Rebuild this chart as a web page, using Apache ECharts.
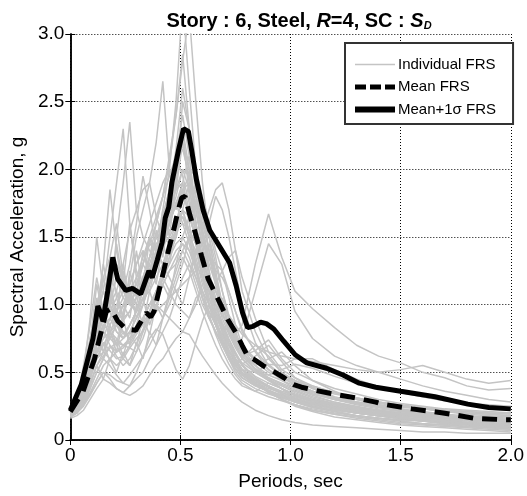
<!DOCTYPE html>
<html>
<head>
<meta charset="utf-8">
<script src="https://cdn.jsdelivr.net/npm/echarts@6/dist/echarts.min.js"></script>
<style>
html,body{margin:0;padding:0;background:#fff;}
#chart{width:527px;height:496px;}
</style>
</head>
<body>
<div id="chart"></div>
<script>
// ---- Data ----
var periods = [0,0.03,0.06,0.09,0.12,0.15,0.18,0.21,0.24,0.27,0.30,0.33,0.36,0.39,0.42,0.45,0.48,0.51,0.54,0.57,0.60,0.63,0.66,0.69,0.72,0.75,0.78,0.84,0.90,0.96,1.02,1.1,1.2,1.3,1.4,1.5,1.6,1.7,1.8,1.9,2.0];

var individualFRS = [
 [.22,.26,.35,.55,.8,.9,.75,.85,1.0,.9, 1.2,1.3,1.45,1.4,1.7,2.0,2.5,3.25,2.6,2.0, 1.7,1.4,1.2,1.0,.85,.75,.65,.52,.45,.4, .35,.3,.26,.23,.2,.17,.15,.13,.12,.11,.1],
 [.2,.24,.32,.5,.7,.95,.8,.85,.9,1.1, 1.0,1.2,1.35,1.6,1.8,2.1,2.4,2.85,2.3,1.8, 1.5,1.25,1.05,.9,.78,.68,.6,.5,.44,.38, .33,.28,.23,.2,.18,.16,.14,.12,.11,.1,.09],
 [.2,.23,.3,.45,.65,.8,1.0,1.1,.9,1.2, 1.5,1.7,1.9,2.2,2.65,2.0,1.7,1.9,2.1,1.6, 1.3,1.1,.9,.75,.65,.58,.52,.45,.4,.35, .31,.27,.23,.2,.18,.16,.15,.13,.12,.11,.1],
 [.25,.3,.42,.65,.9,1.2,1.0,1.5,1.9,2.35, 1.7,1.5,1.4,1.3,1.5,1.6,1.75,1.9,1.6,1.3, 1.05,.9,.8,.7,.6,.52,.46,.4,.36,.33, .3,.27,.24,.21,.19,.17,.15,.14,.13,.12,.11],
 [.2,.26,.38,.6,.9,1.1,1.5,1.9,2.3,1.6, 1.2,1.1,1.25,1.4,1.5,1.7,1.85,2.2,1.9,1.5, 1.25,1.0,.85,.72,.6,.5,.44,.38,.34,.31, .28,.24,.21,.18,.16,.15,.14,.13,.12,.11,.1],
 [.18,.22,.33,.55,.85,1.3,1.85,1.4,1.1,1.0, .95,1.1,1.3,1.45,1.5,1.65,1.8,2.0,1.85,1.6, 1.35,1.15,.95,.8,.7,.6,.52,.44,.4,.36, .33,.29,.26,.23,.21,.19,.17,.16,.15,.14,.13],
 [.22,.3,.5,.9,1.5,1.1,.95,.85,.75,.8, .9,1.0,1.15,1.3,1.45,1.5,1.6,1.7,1.9,1.75, 1.55,1.35,1.15,1.0,.85,.72,.62,.52,.46,.42, .38,.34,.3,.27,.24,.22,.2,.18,.17,.16,.15],
 [.2,.22,.28,.38,.5,.6,.7,.65,.68,.75, .8,.9,1.0,1.1,1.2,1.1,1.0,.95,.9,1.05, 1.1,1.0,.9,.85,.8,.78,.85,1.3,1.67,1.35, 1.1,.97,.83,.7,.62,.57,.5,.46,.4,.37,.38],
 [.2,.22,.27,.35,.45,.55,.6,.65,.7,.68, .75,.8,.9,1.0,.95,.9,.85,.8,.9,1.0, 1.15,1.2,1.1,.95,.8,.7,.75,1.1,1.45,1.3, .95,.75,.62,.55,.5,.45,.4,.36,.33,.3,.28],
 [.22,.28,.4,.62,.8,.95,1.05,.9,.8,.75, .85,1.0,1.2,1.4,1.6,1.85,2.05,2.15,1.95,1.6, 1.3,1.05,.88,.74,.62,.53,.46,.4,.36,.33, .3,.26,.23,.2,.18,.16,.14,.12,.11,.1,.09],
 [.2,.25,.36,.55,.72,.8,.7,.62,.55,.6, .7,.82,.95,1.1,1.25,1.4,1.55,1.6,1.55,1.45, 1.3,1.2,1.1,1.0,.9,.8,.68,.55,.45,.38, .33,.29,.25,.22,.2,.18,.16,.15,.13,.12,.11],
 [.21,.28,.45,.7,.95,1.1,.95,1.05,1.15,1.0, 1.05,1.2,1.1,1.3,1.45,1.6,1.75,1.85,1.95,2.0, 1.8,1.6,1.4,1.25,1.1,.95,.8,.66,.55,.48, .44,.39,.35,.31,.28,.25,.23,.21,.19,.18,.17],
 [.17,.2,.27,.38,.5,.6,.55,.48,.42,.4, .45,.5,.6,.7,.8,.9,1.05,1.2,1.3,1.2, 1.05,.95,.85,.75,.66,.58,.5,.42,.35,.3, .25,.21,.17,.15,.13,.11,.1,.09,.08,.07,.06],
 [.22,.27,.4,.6,.78,.9,1.0,1.2,1.05,1.0, 1.1,1.3,1.5,1.4,1.3,1.2,1.1,1.0,1.2,1.4, 1.55,1.7,1.85,1.9,1.7,1.4,1.1,.8,.6,.5, .44,.38,.34,.31,.28,.25,.23,.21,.2,.19,.18],
 [.19,.23,.33,.5,.65,.75,.8,.7,.6,.55, .65,.8,.95,1.1,1.25,1.4,1.55,1.7,1.65,1.5, 1.45,1.6,1.8,1.7,1.5,1.25,1.0,.72,.55,.47, .41,.36,.31,.28,.25,.22,.2,.18,.16,.15,.14],
 [.2,.25,.38,.6,.85,1.0,.95,.8,.75,.85, .95,1.05,1.2,1.35,1.55,1.8,2.1,2.4,2.1,1.7, 1.4,1.15,.95,.8,.66,.56,.48,.41,.36,.32, .28,.24,.21,.18,.16,.14,.12,.11,.1,.09,.08],
 [.17,.2,.26,.34,.42,.5,.45,.38,.35,.4, .5,.62,.75,.82,.78,.65,.52,.45,.55,.72, .88,1.0,.95,.85,.74,.64,.55,.44,.36,.3, .26,.22,.19,.16,.14,.12,.11,.1,.09,.08,.07],
 [.23,.28,.42,.65,.85,1.0,1.2,1.1,1.3,1.55, 1.7,1.85,1.9,1.65,1.5,1.6,1.9,2.5,2.3,1.95, 1.65,1.4,1.15,.95,.8,.7,.62,.53,.46,.41, .37,.32,.28,.25,.22,.2,.18,.17,.16,.15,.14],
 [.2,.24,.33,.48,.6,.65,.6,.55,.6,.68, .65,.75,.9,1.05,1.2,1.35,1.45,1.5,1.4,1.25, 1.1,.95,.85,.78,.7,.63,.57,.5,.48,.52, .56,.53,.47,.42,.38,.35,.32,.29,.27,.25,.23],
 [.21,.26,.38,.56,.75,.9,1.05,.95,.9,.95, 1.05,1.2,1.35,1.5,1.65,1.85,2.0,2.2,2.0,1.7, 1.45,1.2,1.0,.85,.72,.63,.55,.47,.42,.38, .34,.3,.27,.24,.22,.2,.19,.18,.17,.16,.15],
 [.24,.3,.45,.7,.95,1.1,1.0,.9,1.0,1.15, 1.3,1.4,1.25,1.4,1.55,1.7,1.85,2.0,1.95,1.8, 1.6,1.4,1.2,1.0,.85,.74,.66,.6,.56,.55, .6,.6,.52,.45,.39,.35,.32,.29,.27,.26,.25],
 [.19,.22,.3,.42,.55,.65,.75,.85,.8,.75, .8,.9,1.0,1.1,1.2,1.3,1.4,1.45,1.4,1.3, 1.2,1.1,1.0,.92,.84,.76,.7,.6,.52,.46, .41,.36,.31,.28,.26,.24,.23,.22,.21,.2,.2],
 [.2,.24,.35,.52,.66,.75,.9,.8,.75,.8, .9,1.0,1.15,1.3,1.45,1.6,1.75,1.85,1.9,1.75, 1.5,1.35,1.25,1.2,1.1,.95,.82,.65,.52,.44, .38,.33,.28,.24,.21,.19,.17,.15,.14,.13,.12],
 [.22,.27,.4,.6,.75,.85,.9,1.0,1.1,1.3, 1.6,1.95,1.7,1.4,1.3,1.4,1.5,1.7,1.55,1.35, 1.15,1.0,.88,.77,.67,.58,.5,.43,.38,.35, .32,.28,.25,.22,.2,.19,.18,.16,.15,.14,.13],
 [.18,.2,.25,.33,.42,.5,.48,.44,.42,.48, .55,.62,.7,.8,.9,1.0,1.15,1.3,1.5,1.4, 1.2,1.05,.92,.8,.7,.6,.52,.42,.35,.3, .26,.22,.19,.17,.15,.13,.12,.11,.1,.09,.09],
 [.2,.25,.38,.6,.82,1.0,1.1,.95,.88,.95, 1.05,1.2,1.35,1.5,1.65,1.85,2.15,2.6,2.3,1.9, 1.55,1.25,1.0,.83,.7,.6,.52,.44,.39,.34, .3,.27,.24,.22,.2,.18,.17,.16,.15,.14,.14],
 [.21,.25,.36,.55,.72,.85,.8,.9,1.0,1.05, 1.15,1.3,1.45,1.6,1.8,2.05,2.4,2.8,3.15,2.5, 1.9,1.5,1.2,1.0,.85,.72,.6,.5,.44,.4, .36,.31,.27,.24,.22,.2,.18,.17,.16,.15,.14],
 [.2,.24,.35,.55,.72,.8,.75,.7,.75,.85, .95,1.1,1.2,1.35,1.45,1.55,1.6,1.65,1.55,1.45, 1.3,1.2,1.1,1.0,.92,.85,.78,.7,.65,.62, .6,.58,.55,.52,.5,.52,.55,.5,.45,.42,.44],
 [.16,.18,.22,.3,.38,.45,.42,.38,.35,.33, .36,.4,.48,.55,.6,.68,.75,.8,.78,.7, .62,.55,.48,.42,.37,.32,.28,.22,.18,.15, .13,.11,.1,.09,.08,.07,.06,.06,.05,.05,.05],
 [.21,.27,.4,.62,.85,1.0,1.15,1.3,1.2,1.1, 1.2,1.35,1.5,1.65,1.8,1.95,2.1,1.95,1.75,1.55, 1.35,1.15,1.0,.87,.75,.65,.56,.46,.4,.35, .31,.27,.24,.21,.19,.17,.15,.14,.13,.12,.11],
 [.2,.23,.32,.46,.6,.7,.8,.75,.7,.72, .8,.9,1.0,1.05,1.15,1.25,1.3,1.4,1.5,1.6, 1.65,1.5,1.3,1.1,.92,.78,.66,.52,.44,.38, .33,.29,.26,.23,.21,.19,.17,.16,.15,.14,.13],
 [.23,.3,.48,.75,1.0,1.2,1.0,.85,.78,.85, .95,1.05,1.1,1.2,1.3,1.45,1.55,1.65,1.5,1.3, 1.1,.92,.78,.66,.56,.48,.42,.36,.32,.29, .26,.23,.2,.18,.16,.15,.14,.13,.12,.11,.1],
 [.19,.22,.3,.42,.55,.62,.68,.72,.7,.75, .8,.85,.9,.95,1.0,1.05,1.1,1.15,1.2,1.25, 1.3,1.35,1.3,1.25,1.35,1.4,1.2,.9,.65,.52, .46,.4,.35,.31,.28,.26,.24,.22,.21,.2,.19],
 [.22,.28,.42,.62,.9,1.2,1.35,1.6,1.2,1.05, 1.15,1.3,1.2,1.35,1.5,1.45,1.6,1.8,1.7,1.45, 1.2,1.0,.85,.73,.63,.55,.48,.41,.36,.32, .29,.25,.22,.2,.18,.16,.15,.14,.13,.12,.11],
 [.2,.24,.34,.5,.64,.72,.66,.6,.62,.7, .78,.86,.95,1.05,1.15,1.25,1.35,1.45,1.35,1.2, 1.05,.92,.8,.7,.62,.55,.49,.42,.37,.33, .29,.26,.23,.2,.18,.16,.14,.13,.12,.11,.1],
 [.21,.26,.38,.58,.78,.92,.85,.95,1.05,1.15, 1.3,1.45,1.6,1.75,1.9,2.0,1.85,1.9,1.7,1.45, 1.2,1.0,.85,.73,.63,.55,.48,.41,.36,.32, .28,.25,.22,.2,.18,.16,.15,.14,.13,.12,.11],
 [.2,.25,.4,.7,1.05,.8,1.2,.9,1.3,1.0, 1.4,1.1,1.5,1.3,1.7,1.5,1.9,2.3,1.8,1.5, 1.2,1.0,.85,.7,.6,.55,.6,.7,.62,.5, .42,.36,.31,.27,.24,.21,.19,.17,.16,.15,.14],
 [.19,.23,.35,.5,.68,.6,.8,.65,.9,.7, 1.0,.85,1.1,.95,1.2,1.35,1.5,1.7,1.5,1.25, 1.05,.9,.8,.72,.65,.6,.56,.62,.7,.58, .46,.38,.32,.28,.25,.22,.2,.18,.17,.16,.15],
 [.23,.3,.55,.85,1.2,.95,1.35,1.05,.9,1.25, 1.05,1.4,1.2,1.55,1.35,1.7,1.95,2.3,2.0,1.6, 1.3,1.1,.95,.82,.7,.6,.52,.5,.56,.48, .4,.35,.3,.26,.23,.21,.19,.17,.16,.15,.14],
 [.18,.21,.3,.45,.6,.72,.58,.75,.62,.8, .7,.9,.78,1.0,.9,1.1,1.25,1.4,1.3,1.15, 1.0,.9,.95,1.05,.9,.75,.64,.55,.6,.65, .55,.44,.36,.3,.26,.23,.2,.18,.16,.15,.14],
 [.21,.27,.45,.75,.95,1.3,1.05,1.45,1.15,1.6, 1.25,1.1,1.35,1.5,1.4,1.6,1.75,1.6,1.45,1.25, 1.4,1.55,1.35,1.1,.9,.75,.65,.55,.48,.44, .4,.34,.3,.27,.25,.23,.21,.19,.18,.17,.16],
 [.17,.2,.28,.4,.55,.45,.6,.5,.65,.55, .72,.6,.8,.7,.9,1.05,1.2,1.35,1.25,1.1, .95,.82,.7,.6,.52,.45,.4,.36,.42,.38, .3,.25,.21,.18,.16,.14,.12,.11,.1,.09,.08],
 [.22,.28,.46,.72,1.15,.9,1.1,.95,1.25,1.05, .95,1.15,1.3,1.15,1.45,1.3,1.55,1.85,1.65,1.9, 1.55,1.3,1.15,1.25,1.05,.85,.7,.58,.5,.46, .43,.4,.35,.3,.27,.25,.24,.22,.2,.19,.18],
 [.2,.24,.36,.56,.78,.65,.85,.7,.95,1.1, .9,1.05,.85,1.0,1.15,1.05,1.3,1.5,1.65,1.5, 1.3,1.45,1.25,1.0,.82,.7,.62,.66,.74,.6, .5,.44,.38,.34,.3,.27,.25,.23,.22,.21,.2]
];

var meanT = [0,0.058,0.11,0.14,0.163,0.185,0.215,0.252,0.297,0.33,0.345,0.365,0.38,0.417,0.447,0.469,0.49,0.506,0.521,0.543,0.566,0.596,0.626,0.671,0.715,0.753,0.78,0.805,0.83,0.875,0.924,0.97,1.014,1.05,1.103,1.178,1.298,1.387,1.417,1.551,1.693,1.835,1.97,2.0];
var meanA = [0.21,0.36,0.6,0.8,0.95,0.97,0.88,0.82,0.81,0.9,0.94,0.91,0.95,1.2,1.41,1.55,1.7,1.79,1.8,1.66,1.54,1.36,1.19,1.04,0.89,0.79,0.7,0.62,0.6,0.55,0.505,0.46,0.41,0.39,0.37,0.345,0.31,0.28,0.265,0.23,0.2,0.16,0.15,0.15];

var plusT = [0,0.05,0.103,0.125,0.135,0.148,0.17,0.193,0.215,0.252,0.282,0.32,0.357,0.372,0.395,0.417,0.431,0.447,0.461,0.491,0.514,0.536,0.551,0.573,0.603,0.633,0.678,0.723,0.753,0.782,0.805,0.83,0.864,0.89,0.924,0.969,1.021,1.074,1.163,1.238,1.312,1.387,1.5,1.656,1.805,1.9,2.0];
var plusA = [0.22,0.41,0.75,0.99,0.95,0.88,1.1,1.35,1.19,1.105,1.12,1.08,1.25,1.2,1.33,1.46,1.64,1.72,1.9,2.14,2.3,2.28,2.14,1.92,1.7,1.55,1.43,1.31,1.14,0.94,0.83,0.84,0.87,0.86,0.82,0.73,0.63,0.57,0.53,0.48,0.42,0.39,0.36,0.32,0.265,0.24,0.23];

var xTicks = [0, 0.5, 1.0, 1.5, 2.0];
var yTicks = [0, 0.5, 1.0, 1.5, 2.0, 2.5, 3.0];
var legendNames = ['Individual FRS', 'Mean FRS', 'Mean+1\u03c3 FRS'];

// ---- Chart ----
function zip(a, b) { return a.map(function (v, i) { return [v, b[i]]; }); }
function fmt(v) { return v === 0 ? '0' : v.toFixed(1); }

var FONT = '"Liberation Sans", Arial, Helvetica, sans-serif';
var GRAY = '#c4c4c4';
var series = [];
individualFRS.forEach(function (c) {
  series.push({
    name: legendNames[0], type: 'line', data: zip(periods, c),
    symbol: 'none', smooth: false, silent: true,
    lineStyle: { color: GRAY, width: 1.5 }, itemStyle: { color: GRAY },
    z: 2
  });
});
series.push({
  name: legendNames[1], type: 'line', data: zip(meanT, meanA), symbol: 'none', silent: true,
  lineStyle: { color: '#000', width: 5, type: [15, 9] }, itemStyle: { color: '#000' }, z: 3
});
series.push({
  name: legendNames[2], type: 'line', data: zip(plusT, plusA), symbol: 'none', silent: true,
  lineStyle: { color: '#000', width: 5 }, itemStyle: { color: '#000' }, z: 4
});

// legend icons (40 x 14 boxes; tiny corner specks fix the bounding box)
var BOX = 'M0,0h0.01v0.01h-0.01z M39.99,14h0.01v-0.01h-0.01z ';
var iconThin = 'path://' + BOX + 'M0,6.3h40v1.4h-40z';
var iconDash = 'path://' + BOX + 'M0,4.5h11v5h-11z M15,4.5h11v5h-11z M30,4.5h10v5h-10z';
var iconSolid = 'path://' + BOX + 'M0,4h40v6h-40z';

var axisCommonX = {
  type: 'value', min: xTicks[0], max: xTicks[xTicks.length - 1], interval: 0.5,
  axisLine: { show: true, lineStyle: { color: '#000', width: 1.5 } },
  axisTick: { show: true, inside: true, length: 5, lineStyle: { color: '#000' } }
};
var axisCommonY = {
  type: 'value', min: yTicks[0], max: yTicks[yTicks.length - 1], interval: 0.5,
  axisLine: { show: true, lineStyle: { color: '#000', width: 1.5 } },
  axisTick: { show: true, inside: true, length: 5, lineStyle: { color: '#000' } }
};

var chart = echarts.init(document.getElementById('chart'), null, { renderer: 'canvas' });
chart.setOption({
  animation: false,
  backgroundColor: '#fff',
  textStyle: { fontFamily: FONT },
  title: {
    text: 'Story : 6, Steel, {i|R}=4, SC : {i|S}{sub|D}',
    left: 294, top: 6, textAlign: 'center',
    textStyle: {
      fontFamily: FONT, fontSize: 20, fontWeight: 'bold', color: '#000',
      rich: {
        i: { fontFamily: FONT, fontSize: 20, fontWeight: 'bold', fontStyle: 'italic', color: '#000' },
        sub: { fontFamily: FONT, fontSize: 11, fontWeight: 'bold', fontStyle: 'italic', color: '#000', verticalAlign: 'bottom', padding: [8, 0, 0, 0] }
      }
    }
  },
  grid: { left: 67, right: 14, top: 34, bottom: 54, containLabel: false },
  legend: {
    orient: 'vertical', left: 345, top: 43,
    data: [
      { name: legendNames[0], icon: iconThin },
      { name: legendNames[1], icon: iconDash },
      { name: legendNames[2], icon: iconSolid }
    ],
    backgroundColor: '#fff', borderColor: '#333', borderWidth: 2,
    padding: [14, 17, 7, 10], itemGap: 7.5, itemWidth: 40, itemHeight: 14,
    itemStyle: { borderWidth: 0 },
    textStyle: { fontFamily: FONT, fontSize: 15, color: '#000', padding: [0, 0, 0, -2] },
    selectedMode: false
  },
  xAxis: [
    Object.assign({}, axisCommonX, {
      position: 'bottom',
      name: 'Periods, sec', nameLocation: 'middle', nameGap: 32,
      nameTextStyle: { fontFamily: FONT, fontSize: 19, color: '#000' },
      axisLabel: { show: true, fontFamily: FONT, fontSize: 19, color: '#000', margin: 6, formatter: fmt },
      splitLine: { show: true, lineStyle: { color: '#000', width: 1, type: [1, 2] } }
    }),
    Object.assign({}, axisCommonX, {
      position: 'top', axisLabel: { show: false }, splitLine: { show: false }
    })
  ],
  yAxis: [
    Object.assign({}, axisCommonY, {
      position: 'left',
      name: 'Spectral Acceleration, g', nameLocation: 'middle', nameGap: 34, nameRotate: 90,
      nameTextStyle: { fontFamily: FONT, fontSize: 19, color: '#000' },
      axisLabel: { show: true, fontFamily: FONT, fontSize: 19, color: '#000', margin: 6, formatter: fmt },
      splitLine: { show: true, lineStyle: { color: '#000', width: 1, type: [1, 2] } }
    }),
    Object.assign({}, axisCommonY, {
      position: 'right', axisLabel: { show: false }, splitLine: { show: false }
    })
  ],
  series: series
});
</script>
</body>
</html>
